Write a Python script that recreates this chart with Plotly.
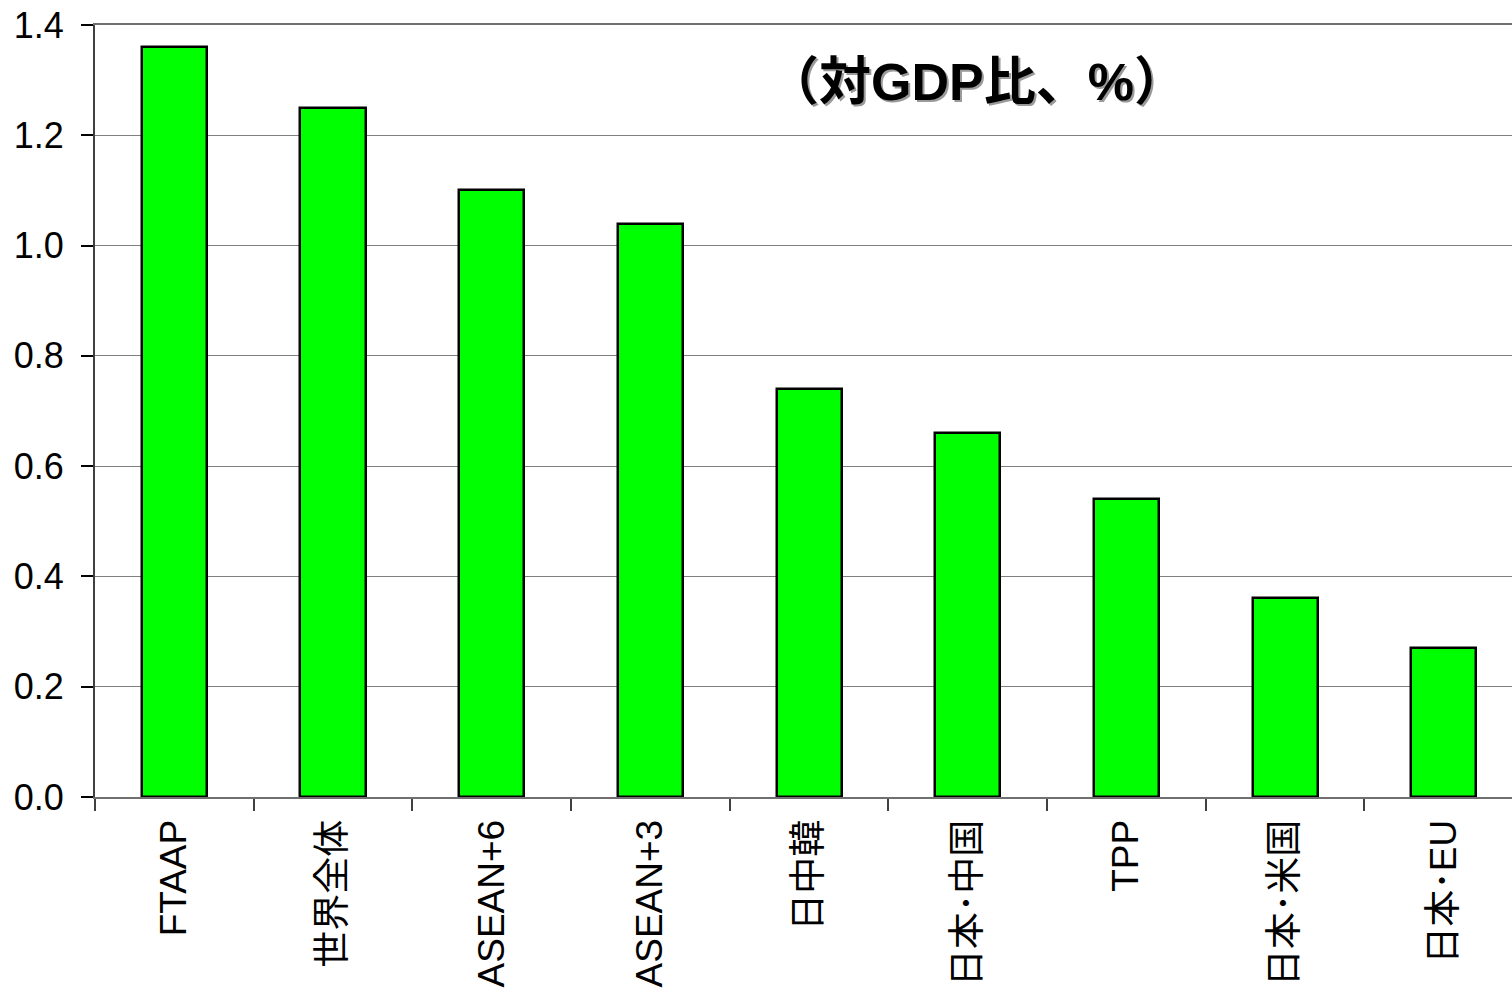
import plotly.graph_objects as go

categories = ["FTAAP", "世界全体", "ASEAN+6", "ASEAN+3", "日中韓", "日本･中国", "TPP", "日本･米国", "日本･EU"]
values = [1.36, 1.25, 1.10, 1.04, 0.74, 0.66, 0.54, 0.36, 0.27]
y_ticks = [0.0, 0.2, 0.4, 0.6, 0.8, 1.0, 1.2, 1.4]
unit_label = "（対GDP比、%）"

FONT = "Liberation Sans, Arial, Noto Sans CJK JP, sans-serif"

fig = go.Figure()
fig.add_trace(go.Bar(
    x=categories, y=values,
    width=0.41,
    marker=dict(color="#00FF00", line=dict(color="#000000", width=2.5)),
))

fig.update_layout(
    width=1512, height=993,
    margin=dict(l=95, r=0, t=25, b=196, pad=0),
    plot_bgcolor="white", paper_bgcolor="white",
    showlegend=False,
    font=dict(family=FONT, color="black"),
    bargap=0,
)
fig.update_xaxes(
    type="category",
    range=[-0.5, 8.43],
    automargin=False,
    tickson="boundaries",
    ticks="outside", ticklen=12, tickcolor="#404040", tickwidth=1.5,
    showline=True, linecolor="#707070", linewidth=2, mirror=True,
    tickangle=-90,
    tickfont=dict(size=37, family=FONT),
    ticklabelstandoff=6,
    showgrid=False,
)
fig.update_yaxes(
    range=[0, 1.4],
    automargin=False,
    tickvals=y_ticks,
    tickformat=".1f",
    ticks="outside", ticklen=12, tickcolor="#000000", tickwidth=1.5,
    showline=True, linecolor="#404040", linewidth=2,
    showgrid=True, gridcolor="#7f7f7f", gridwidth=1,
    zeroline=False,
    tickfont=dict(size=36, family=FONT),
    ticklabelstandoff=10,
    ticklabeloverflow="allow",
)

# shadow + text for unit label
for dx, dy, col in [(2, 2, "#9a9a9a"), (0, 0, "#000000")]:
    fig.add_annotation(
        x=0.622, y=1.297, xref="paper", yref="y",
        text="<b>" + unit_label + "</b>", showarrow=False,
        xshift=dx, yshift=-dy,
        font=dict(size=52, color=col, family="Liberation Sans, Noto Sans CJK JP, sans-serif"),
    )

fig.write_html(
    "out.html",
    config={"displayModeBar": False},
    post_script="document.body.style.margin='0';document.body.style.overflow='hidden';",
)
